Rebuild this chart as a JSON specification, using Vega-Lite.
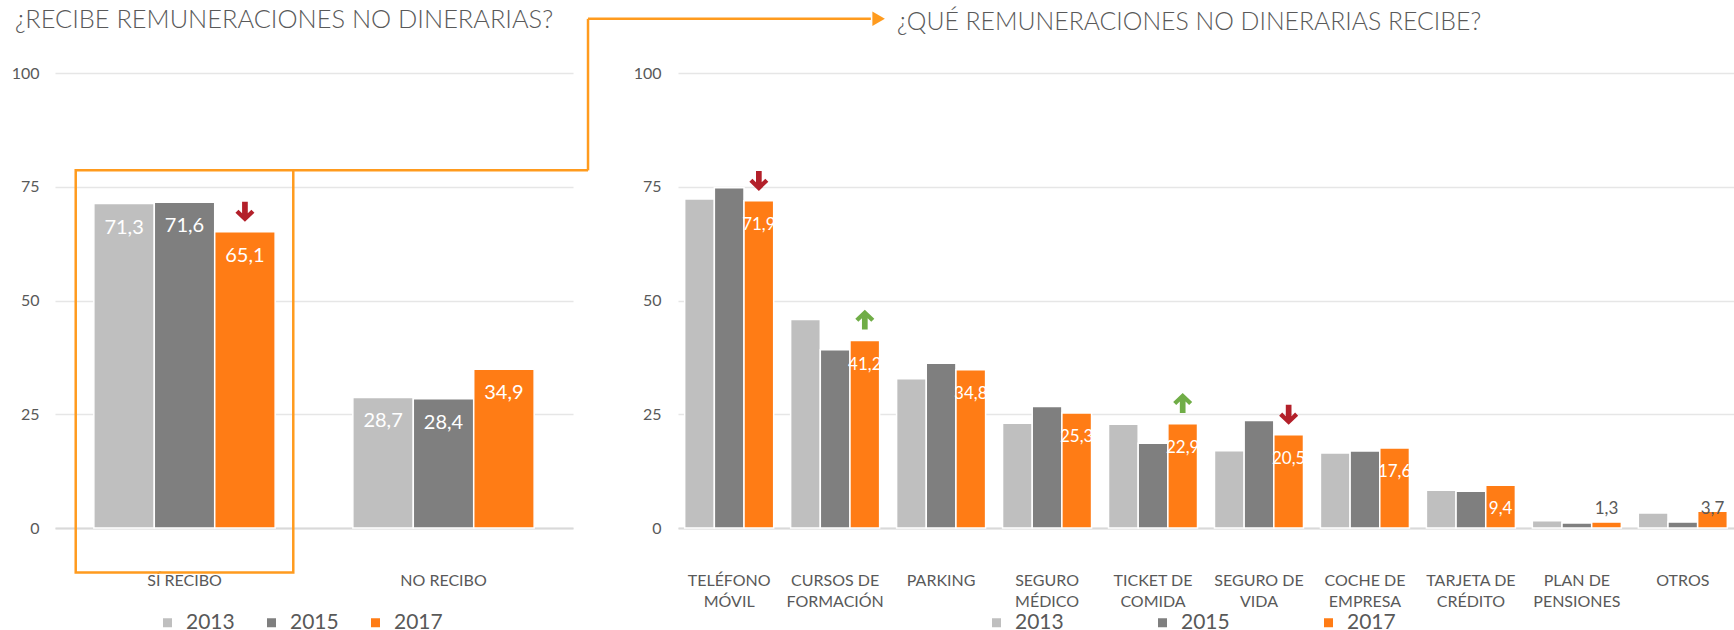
{
  "$schema": "https://vega.github.io/schema/vega-lite/v6.json",
  "padding": {"left": 11, "top": 8, "right": 0, "bottom": 0},
  "bounds": "flush",
  "spacing": 105,
  "background": "white",
  "config": {
    "font": "Lato",
    "view": {"stroke": null},
    "locale": {"number": {"decimal": ",", "thousands": ".", "grouping": [3], "currency": ["", " €"]}},
    "axis": {"labelColor": "#595959", "labelFont": "Lato", "titleColor": "#595959"},
    "title": {"color": "#595959", "font": "Lato", "fontWeight": 300, "fontSize": 25}
  },
  "datasets": {
    "left": [
      {"cat": "SÍ RECIBO", "year": "2013", "value": 71.3},
      {"cat": "SÍ RECIBO", "year": "2015", "value": 71.6},
      {"cat": "SÍ RECIBO", "year": "2017", "value": 65.1, "trend": "down"},
      {"cat": "NO RECIBO", "year": "2013", "value": 28.7},
      {"cat": "NO RECIBO", "year": "2015", "value": 28.4},
      {"cat": "NO RECIBO", "year": "2017", "value": 34.9}
    ],
    "right": [
      {"cat": "TELÉFONO|MÓVIL", "year": "2013", "value": 72.3},
      {"cat": "TELÉFONO|MÓVIL", "year": "2015", "value": 74.8},
      {"cat": "TELÉFONO|MÓVIL", "year": "2017", "value": 71.9, "trend": "down"},
      {"cat": "CURSOS DE|FORMACIÓN", "year": "2013", "value": 45.8},
      {"cat": "CURSOS DE|FORMACIÓN", "year": "2015", "value": 39.2},
      {"cat": "CURSOS DE|FORMACIÓN", "year": "2017", "value": 41.2, "trend": "up"},
      {"cat": "PARKING", "year": "2013", "value": 32.8},
      {"cat": "PARKING", "year": "2015", "value": 36.2},
      {"cat": "PARKING", "year": "2017", "value": 34.8},
      {"cat": "SEGURO|MÉDICO", "year": "2013", "value": 23.0},
      {"cat": "SEGURO|MÉDICO", "year": "2015", "value": 26.7},
      {"cat": "SEGURO|MÉDICO", "year": "2017", "value": 25.3},
      {"cat": "TICKET DE|COMIDA", "year": "2013", "value": 22.8},
      {"cat": "TICKET DE|COMIDA", "year": "2015", "value": 18.6},
      {"cat": "TICKET DE|COMIDA", "year": "2017", "value": 22.9, "trend": "up"},
      {"cat": "SEGURO DE|VIDA", "year": "2013", "value": 17.0},
      {"cat": "SEGURO DE|VIDA", "year": "2015", "value": 23.6},
      {"cat": "SEGURO DE|VIDA", "year": "2017", "value": 20.5, "trend": "down"},
      {"cat": "COCHE DE|EMPRESA", "year": "2013", "value": 16.5},
      {"cat": "COCHE DE|EMPRESA", "year": "2015", "value": 16.9},
      {"cat": "COCHE DE|EMPRESA", "year": "2017", "value": 17.6},
      {"cat": "TARJETA DE|CRÉDITO", "year": "2013", "value": 8.3},
      {"cat": "TARJETA DE|CRÉDITO", "year": "2015", "value": 8.1},
      {"cat": "TARJETA DE|CRÉDITO", "year": "2017", "value": 9.4},
      {"cat": "PLAN DE|PENSIONES", "year": "2013", "value": 1.6},
      {"cat": "PLAN DE|PENSIONES", "year": "2015", "value": 1.1},
      {"cat": "PLAN DE|PENSIONES", "year": "2017", "value": 1.3},
      {"cat": "OTROS", "year": "2013", "value": 3.3},
      {"cat": "OTROS", "year": "2015", "value": 1.3},
      {"cat": "OTROS", "year": "2017", "value": 3.7}
    ]
  },
  "resolve": {"scale": {"color": "independent", "xOffset": "independent", "x": "independent"}, "legend": {"color": "independent"}},
  "hconcat": [
    {
      "width": 518,
      "height": 455,
      "title": {"text": "¿RECIBE REMUNERACIONES NO DINERARIAS?", "anchor": "start", "frame": "group", "dx": -40, "offset": -22, "fontSize": 25.4},
      "data": {"name": "left"},
      "resolve": {"scale": {"x": "independent"}},
      "layer": [
        {
          "layer": [
            {
              "mark": {"type": "bar", "stroke": "white", "strokeWidth": 1.5},
              "encoding": {
                "x": {"field": "cat", "type": "nominal", "sort": null,
                  "scale": {"paddingInner": 0.3, "paddingOuter": 0.15},
                  "axis": {"title": null, "labelAngle": 0, "ticks": false, "labelPadding": 44, "labelFontSize": 16, "domainColor": "#D9D9D9", "domainWidth": 2, "labelOverlap": false}},
                "xOffset": {"field": "year", "type": "nominal", "sort": null},
                "y": {"field": "value", "type": "quantitative",
                  "scale": {"domain": [0, 100], "nice": false},
                  "axis": {"title": null, "values": [0, 25, 50, 75, 100], "ticks": false, "domain": false, "labelPadding": 16, "labelFontSize": 16, "gridColor": "#E6E6E6", "gridWidth": 1.5}},
                "color": {"field": "year", "type": "nominal",
                  "scale": {"domain": ["2013", "2015", "2017"], "range": ["#BFBFBF", "#7F7F7F", "#FF7C15"]},
                  "legend": {"orient": "none", "legendX": 102, "legendY": 539, "direction": "horizontal", "title": null, "symbolType": "square", "symbolSize": 81, "symbolStrokeWidth": 0, "labelFontSize": 21, "labelColor": "#595959", "labelFont": "Lato", "labelOffset": 8, "columnPadding": 26, "padding": 0}}
              }
            },
            {
              "mark": {"type": "text", "color": "white", "fontSize": 20, "baseline": "middle", "dy": 24},
              "encoding": {
                "x": {"field": "cat", "type": "nominal", "sort": null},
                "xOffset": {"field": "year", "type": "nominal", "sort": null},
                "y": {"field": "value", "type": "quantitative"},
                "text": {"field": "value", "type": "quantitative", "format": ".1f"}
              }
            },
            {
              "transform": [{"filter": "datum.trend != null"}],
              "mark": {"type": "point", "filled": true, "size": 361, "strokeWidth": 0, "opacity": 1},
              "encoding": {
                "x": {"field": "cat", "type": "nominal", "sort": null},
                "xOffset": {"field": "year", "type": "nominal", "sort": null},
                "y": {"field": "value", "type": "quantitative"},
                "shape": {"field": "trend", "type": "nominal", "legend": null,
                  "scale": {"domain": ["down", "up"], "range": ["M-0.3,-3.15L0.3,-3.15L0.3,-1.95L0.68,-2.33L1,-2.01L0,-1.05L-1,-2.01L-0.68,-2.33L-0.3,-1.95Z", "M-0.3,-1.15L0.3,-1.15L0.3,-2.35L0.68,-1.97L1,-2.29L0,-3.25L-1,-2.29L-0.68,-1.97L-0.3,-2.35Z"]}},
                "color": {"condition": {"test": "datum.trend === 'up'", "value": "#70AD47"}, "value": "#B3202A"}
              }
            },
            {
              "transform": [{"filter": "datum.cat === 'SÍ RECIBO' && datum.year === '2013'"}],
              "mark": {"type": "bar", "filled": false, "stroke": "#FF9B1E", "strokeWidth": 2.5, "width": {"band": 1.2}},
              "encoding": {
                "x": {"field": "cat", "type": "nominal", "sort": null},
                "y": {"datum": 78.6},
                "y2": {"datum": -9.8}
              }
            }
          ]
        },
        {
          "data": {"values": [{}]},
          "layer": [
            {
              "mark": {"type": "rule", "stroke": "#FF9B1E", "strokeWidth": 2.5},
              "encoding": {
                "x": {"datum": 0.4595, "type": "quantitative", "scale": {"domain": [0, 1], "nice": false, "zero": false}, "axis": null},
                "x2": {"datum": 1.029},
                "y": {"datum": 78.6}
              }
            },
            {
              "mark": {"type": "rule", "stroke": "#FF9B1E", "strokeWidth": 2.5},
              "encoding": {
                "x": {"datum": 1.029, "type": "quantitative"},
                "y": {"datum": 78.6},
                "y2": {"datum": 111.9}
              }
            },
            {
              "mark": {"type": "rule", "stroke": "#FF9B1E", "strokeWidth": 2.5},
              "encoding": {
                "x": {"datum": 1.029, "type": "quantitative"},
                "x2": {"datum": 1.575},
                "y": {"datum": 111.9}
              }
            },
            {
              "mark": {"type": "point", "shape": "triangle-right", "filled": true, "size": 210, "color": "#FF9B1E", "opacity": 1},
              "encoding": {
                "x": {"datum": 1.59, "type": "quantitative"},
                "y": {"datum": 111.9}
              }
            }
          ]
        }
      ]
    },
    {
      "width": 1056,
      "height": 455,
      "title": {"text": "¿QUÉ REMUNERACIONES NO DINERARIAS RECIBE?", "anchor": "start", "frame": "group", "dx": 219, "offset": 30.5, "fontSize": 24.8},
      "data": {"name": "right"},
      "layer": [
        {
          "mark": {"type": "bar", "stroke": "white", "strokeWidth": 1.5},
          "encoding": {
            "x": {"field": "cat", "type": "nominal", "sort": null,
              "scale": {"paddingInner": 0.16, "paddingOuter": 0.063},
              "axis": {"title": null, "labelAngle": 0, "ticks": false, "labelPadding": 44, "labelFontSize": 16, "labelLineHeight": 21, "labelExpr": "split(datum.label, '|')", "domainColor": "#D9D9D9", "domainWidth": 2, "labelOverlap": false}},
            "xOffset": {"field": "year", "type": "nominal", "sort": null},
            "y": {"field": "value", "type": "quantitative",
              "scale": {"domain": [0, 100], "nice": false},
              "axis": {"title": null, "values": [0, 25, 50, 75, 100], "ticks": false, "domain": false, "labelPadding": 17, "labelFontSize": 16, "gridColor": "#E6E6E6", "gridWidth": 1.5}},
            "color": {"field": "year", "type": "nominal",
              "scale": {"domain": ["2013", "2015", "2017"], "range": ["#BFBFBF", "#7F7F7F", "#FF7C15"]},
              "legend": {"orient": "none", "legendX": 308, "legendY": 539, "direction": "horizontal", "title": null, "symbolType": "square", "symbolSize": 81, "symbolStrokeWidth": 0, "labelFontSize": 21, "labelColor": "#595959", "labelFont": "Lato", "labelOffset": 8, "columnPadding": 88, "padding": 0}}
          }
        },
        {
          "transform": [{"filter": "datum.year === '2017' && datum.value >= 5"}],
          "mark": {"type": "text", "color": "white", "fontSize": 17, "baseline": "middle", "dy": 24},
          "encoding": {
            "x": {"field": "cat", "type": "nominal", "sort": null},
            "xOffset": {"field": "year", "type": "nominal", "sort": null},
            "y": {"field": "value", "type": "quantitative"},
            "text": {"field": "value", "type": "quantitative", "format": ".1f"}
          }
        },
        {
          "transform": [{"filter": "datum.year === '2017' && datum.value < 5"}],
          "mark": {"type": "text", "color": "#595959", "fontSize": 17, "baseline": "middle"},
          "encoding": {
            "x": {"field": "cat", "type": "nominal", "sort": null},
            "xOffset": {"field": "year", "type": "nominal", "sort": null},
            "y": {"datum": 4.2},
            "text": {"field": "value", "type": "quantitative", "format": ".1f"}
          }
        },
        {
          "transform": [{"filter": "datum.trend != null"}],
          "mark": {"type": "point", "filled": true, "size": 361, "strokeWidth": 0, "opacity": 1},
          "encoding": {
            "x": {"field": "cat", "type": "nominal", "sort": null},
            "xOffset": {"field": "year", "type": "nominal", "sort": null},
            "y": {"field": "value", "type": "quantitative"},
            "shape": {"field": "trend", "type": "nominal", "legend": null,
              "scale": {"domain": ["down", "up"], "range": ["M-0.3,-3.15L0.3,-3.15L0.3,-1.95L0.68,-2.33L1,-2.01L0,-1.05L-1,-2.01L-0.68,-2.33L-0.3,-1.95Z", "M-0.3,-1.15L0.3,-1.15L0.3,-2.35L0.68,-1.97L1,-2.29L0,-3.25L-1,-2.29L-0.68,-1.97L-0.3,-2.35Z"]}},
            "color": {"condition": {"test": "datum.trend === 'up'", "value": "#70AD47"}, "value": "#B3202A"}
          }
        }
      ]
    }
  ]
}
